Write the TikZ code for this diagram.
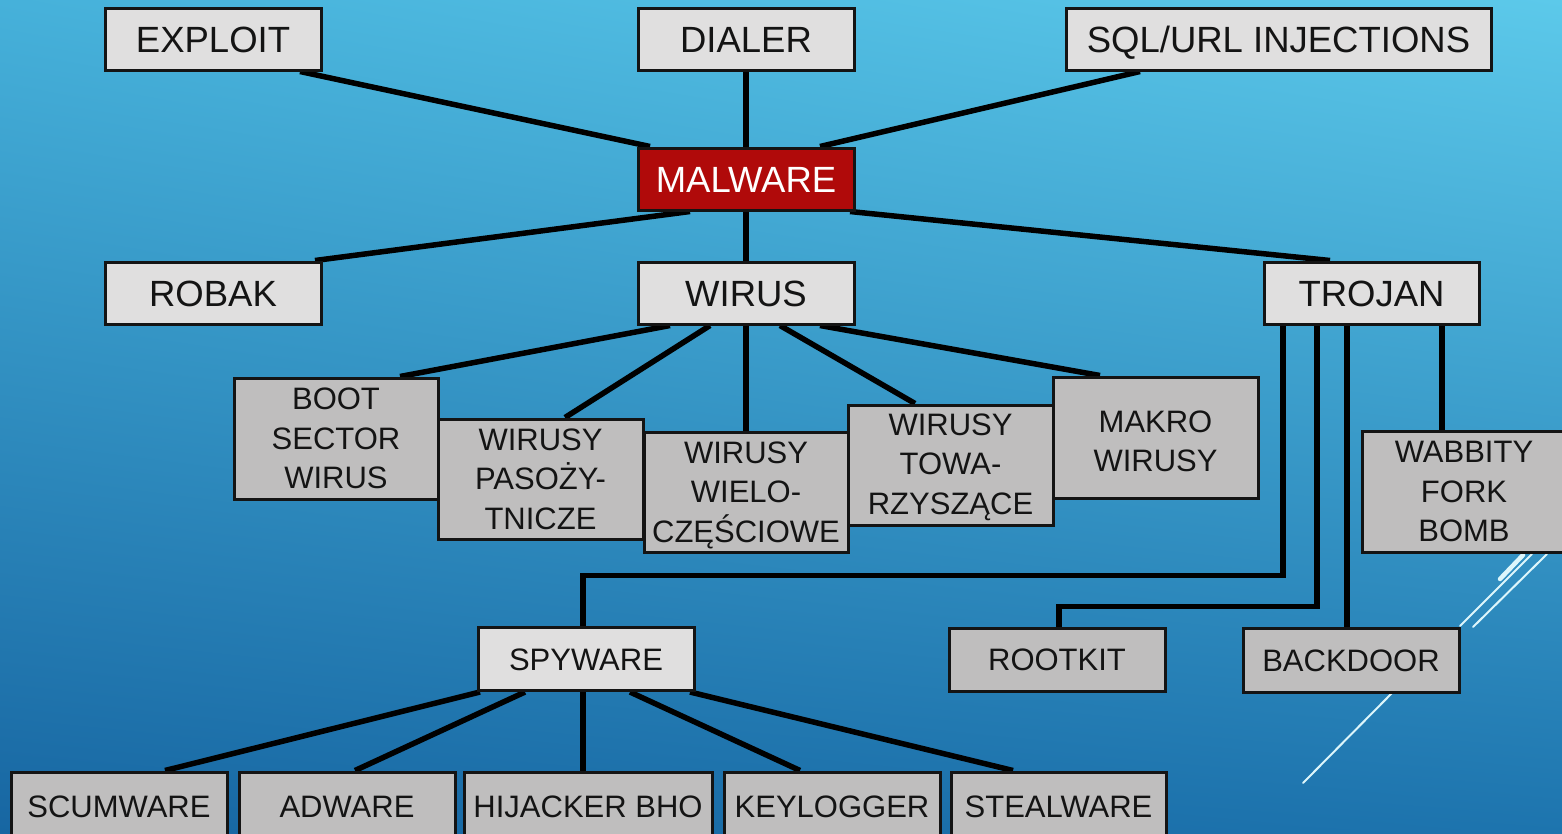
\documentclass[tikz,border=0pt]{standalone}
\usepackage{fontspec}
\setmainfont{Liberation Sans}
\usetikzlibrary{calc,shadings}
\pgfdeclarelayer{bg}
\pgfdeclarelayer{wires}
\pgfsetlayers{bg,wires,main}
\definecolor{boxlight}{HTML}{E0DFDF}
\definecolor{boxgray}{HTML}{BFBEBE}
\definecolor{boxred}{HTML}{B00A0A}
\definecolor{ink}{HTML}{141414}
\definecolor{bgUL}{HTML}{46B1DA}
\definecolor{bgUR}{HTML}{5CC9EA}
\definecolor{bgLL}{HTML}{1766A2}
\definecolor{bgLR}{HTML}{1D74AE}
\definecolor{deco}{HTML}{DDF6FB}
\tikzset{
  boxbase/.style={draw=ink, line width=3pt, rectangle, inner sep=0pt, text=ink},
  topbox/.style={boxbase, fill=boxlight, minimum width=216pt, minimum height=62pt,
    font=\fontsize{36.5}{44}\selectfont, text height=26pt, text depth=0pt},
  redbox/.style={topbox, fill=boxred, text=white},
  subfont/.style={font=\fontsize{31}{39.5}\selectfont, align=center, text=ink, inner sep=0pt},
  subbox/.style={boxbase, subfont, fill=boxgray, minimum width=205pt, minimum height=120pt},
  leafbox/.style={boxbase, fill=boxgray, minimum width=216pt, minimum height=63pt,
    font=\fontsize{31}{38}\selectfont, text height=22pt, text depth=0pt},
  lightleaf/.style={leafbox, fill=boxlight},
  wire/.style={draw=black, line width=5.5pt, line join=miter},
  decoline/.style={draw=deco, line width=2pt, line cap=round}
}
\begin{document}
\begin{tikzpicture}[x=1pt,y=-1pt]
\useasboundingbox (0,0) rectangle (1562,833);

% backdrop
\begin{pgfonlayer}{bg}
\shade[upper left=bgUL, upper right=bgUR, lower left=bgLL, lower right=bgLR]
  (0,0) rectangle (1562,833);
\draw[decoline, line width=4.5pt] (1500,579) -- (1523,555);
\draw[decoline] (1460,626) -- (1532,554);
\draw[decoline] (1473,627) -- (1547,554);
\draw[decoline] (1303,783) -- (1392,693);
\end{pgfonlayer}

% first level
\node[topbox] (exploit) at (213,39) {EXPLOIT};
\node[topbox] (dialer) at (746,39) {DIALER};
\node[topbox, minimum width=425pt] (sql) at (1278.5,39) {SQL/URL INJECTIONS};
\node[redbox] (malware) at (746,179) {MALWARE};
\node[topbox] (robak) at (213,293) {ROBAK};
\node[topbox] (wirus) at (746,293) {WIRUS};
\node[topbox, minimum width=215pt] (trojan) at (1371.5,293) {TROJAN};

% virus kinds
\node[subbox, minimum width=204pt, minimum height=121pt] (boot) at (336,438.5) {BOOT\\SECTOR\\WIRUS};
\node[subbox] (pasoz) at (540.5,479) {WIRUSY\\PASOŻY-\\TNICZE};
\node[subbox, minimum width=204pt] (wielo) at (746,492) {};
\node[subfont] (wielotext) at ([yshift=-3]wielo.center) {WIRUSY\\WIELO-\\CZĘŚCIOWE};
\node[subbox] (towa) at (950.5,465) {};
\node[subfont] (towatext) at ([yshift=-2]towa.center) {WIRUSY\\TOWA-\\RZYSZĄCE};
\node[subbox, minimum height=121pt] (makro) at (1155.5,437.5) {};
\node[subfont] (makrotext) at ([yshift=-4]makro.center) {MAKRO\\WIRUSY};

% trojan kinds
\node[subbox, minimum width=204pt, minimum height=121pt] (wabbity) at (1464,491.5) {WABBITY\\FORK\\BOMB};
\node[lightleaf] (spyware) at (586,659) {SPYWARE};
\node[leafbox] (rootkit) at (1057,659.5) {ROOTKIT};
\node[leafbox, minimum height=64pt] (backdoor) at (1351,660) {BACKDOOR};

% spyware kinds
\node[leafbox, minimum height=68pt] (scum) at (119,806) {SCUMWARE};
\node[leafbox, minimum height=68pt] (adware) at (347,806) {ADWARE};
\node[leafbox, minimum height=68pt, minimum width=248pt] (hijack) at (588,806) {HIJACKER BHO};
\node[leafbox, minimum height=68pt] (keylog) at (832,806) {KEYLOGGER};
\node[leafbox, minimum height=68pt, minimum width=215pt] (steal) at (1058.5,806) {STEALWARE};

% connectors
\begin{pgfonlayer}{wires}
\draw[wire] ([xshift=87]exploit.south) -- ([xshift=-96]malware.north);
\draw[wire] (dialer.south) -- (malware.north);
\draw[wire] ([xshift=-138.5]sql.south) -- ([xshift=74]malware.north);
\draw[wire] ([xshift=-56]malware.south) -- ([xshift=102]robak.north);
\draw[wire] (malware.south) -- (wirus.north);
\draw[wire] ([xshift=104]malware.south) -- ([xshift=-41.5]trojan.north);

\draw[wire] ([xshift=-76]wirus.south) -- ([xshift=64]boot.north);
\draw[wire] ([xshift=-36]wirus.south) -- ([xshift=24.5]pasoz.north);
\draw[wire] (wirus.south) -- (wielo.north);
\draw[wire] ([xshift=34]wirus.south) -- ([xshift=-35.5]towa.north);
\draw[wire] ([xshift=74]wirus.south) -- ([xshift=-55.5]makro.north);

\draw[wire] ([xshift=-88.5]trojan.south) -- ++(0,250) -| ([xshift=-3]spyware.north);
\draw[wire] ([xshift=-54.5]trojan.south) -- ++(0,281) -| ([xshift=2]rootkit.north);
\draw[wire] ([xshift=-24.5]trojan.south) -- ([xshift=-24.5]trojan.south |- backdoor.north);
\draw[wire] ([xshift=70.5]trojan.south) -- ([xshift=70.5]trojan.south |- wabbity.north);

\draw[wire] ([xshift=-106]spyware.south) -- ([xshift=46]scum.north);
\draw[wire] ([xshift=-61]spyware.south) -- ([xshift=8]adware.north);
\draw[wire] ([xshift=-3]spyware.south) -- ([xshift=-3]spyware.south |- hijack.north);
\draw[wire] ([xshift=44]spyware.south) -- ([xshift=-32]keylog.north);
\draw[wire] ([xshift=104]spyware.south) -- ([xshift=-45.5]steal.north);
\end{pgfonlayer}
\end{tikzpicture}
\end{document}
